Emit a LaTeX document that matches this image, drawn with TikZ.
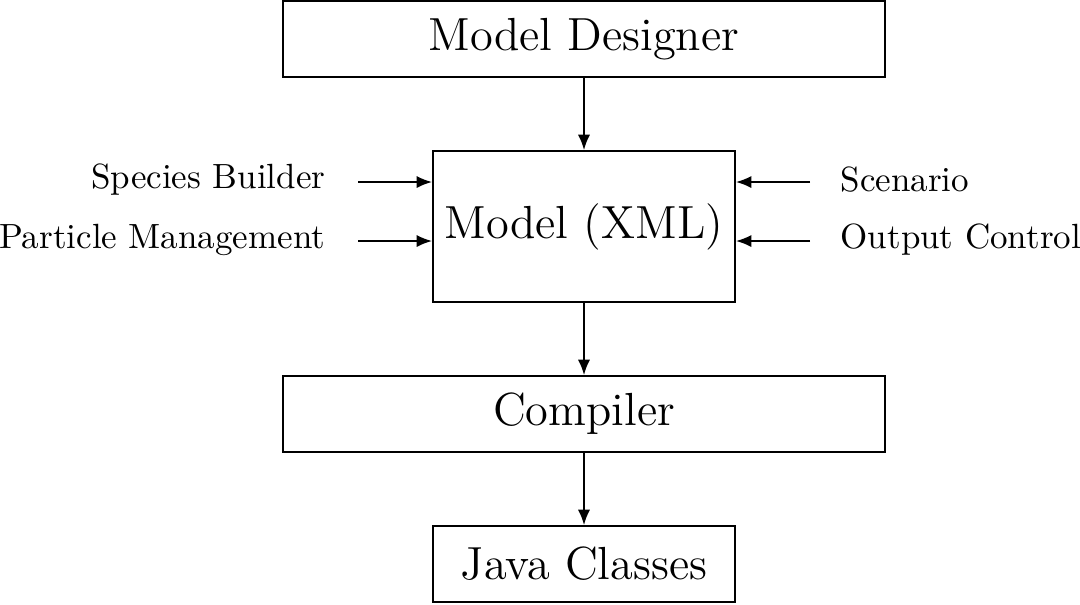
\documentclass[tikz,border=0pt]{standalone}
\usetikzlibrary{arrows.meta}
\begin{document}
\begin{tikzpicture}[x=0.28pt,y=-0.28pt,
  box/.style={draw,line width=0.5pt,inner sep=0pt,font=\fontsize{13}{15}\selectfont},
  lbl/.style={inner sep=0pt,font=\fontsize{9.8}{12}\selectfont},
  arr/.style={-{Latex[length=4.3pt,width=3.4pt]},line width=0.5pt}]
\useasboundingbox (0,0) rectangle (1080,604);
\node[box,minimum width=168.6pt,minimum height=21.3pt] (md) at (584,39) {Model Designer};
\node[box,minimum width=84.6pt,minimum height=42.3pt] (xml) at (584,226.5) {Model (XML)};
\node[box,minimum width=168.6pt,minimum height=21.3pt] (cmp) at (584,414) {Compiler};
\node[box,minimum width=84.6pt,minimum height=21.3pt] (jc) at (584,564) {Java Classes};
\node[lbl,anchor=east] (sb) at (326,180) {Species Builder};
\node[lbl,anchor=east] (pm) at (326,240) {Particle Management};
\node[lbl,anchor=west] (sc) at (840,180) {Scenario};
\node[lbl,anchor=west] (oc) at (840,240) {Output Control};
\coordinate (a1) at (358,182);
\coordinate (a2) at (358,241);
\coordinate (b1) at (810,182);
\coordinate (b2) at (810,241);
\draw[arr] (md) -- (xml);
\draw[arr] (xml) -- (cmp);
\draw[arr] (cmp) -- (jc);
\draw[arr] (a1) -- (a1 -| xml.west);
\draw[arr] (a2) -- (a2 -| xml.west);
\draw[arr] (b1) -- (b1 -| xml.east);
\draw[arr] (b2) -- (b2 -| xml.east);
\end{tikzpicture}
\end{document}
